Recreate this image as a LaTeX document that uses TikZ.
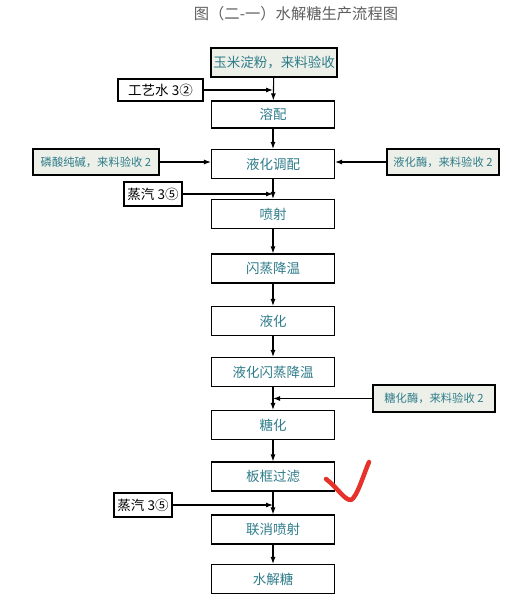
\documentclass[tikz,border=0pt]{standalone}
\usepackage{fontspec}
\setmainfont{Noto Sans CJK SC}
\usetikzlibrary{arrows.meta}
\begin{document}
\begin{tikzpicture}[x=1pt,y=-1pt,font=\fontsize{13.5}{15}\selectfont,
  stepbox/.style={draw,line width=1.1pt,minimum width=123pt,minimum height=29pt,inner sep=0pt,text=tx},
  inbox/.style={draw,line width=1.4pt,minimum height=26pt,inner sep=2pt,text=tx,fill=bg,font=\fontsize{11.3}{13}\selectfont},
  utilbox/.style={draw,line width=1.4pt,minimum height=24pt,inner sep=3pt},
  flow/.style={line width=1.1pt,-{Latex[length=7pt,width=5pt]}}]
  \definecolor{tx}{HTML}{2F7C8A}
  \definecolor{bg}{HTML}{EDF0E8}
  \definecolor{ti}{HTML}{5E5E5E}
  \definecolor{ck}{HTML}{E5322B}
  \useasboundingbox (0,0) rectangle (518,600);
  % title
  \node[text=ti,font=\fontsize{15.3}{17}\selectfont] (title) at (296,14) {图（二-一）水解糖生产流程图};
  % main line
  \node[stepbox,fill=bg,minimum width=126pt] (corn) at (274,62.5) {玉米淀粉，来料验收};
  \node[stepbox,minimum height=27pt] (mix) at (273,114.5) {溶配};
  \node[stepbox] (liqmix) at (273,164) {液化调配};
  \node[stepbox] (jet) at (273,214) {喷射};
  \node[stepbox] (flash) at (273,268.5) {闪蒸降温};
  \node[stepbox] (liq) at (273,321) {液化};
  \node[stepbox] (liqflash) at (273,372) {液化闪蒸降温};
  \node[stepbox] (sugar) at (273,425) {糖化};
  \node[stepbox] (press) at (273,476.5) {板框过滤};
  \node[stepbox] (jet2) at (273,529.5) {联消喷射};
  \node[stepbox] (prod) at (273,579) {水解糖};
  \foreach \a/\b in {corn/mix,mix/liqmix,liqmix/jet,jet/flash,flash/liq,liq/liqflash,liqflash/sugar,sugar/press,press/jet2,jet2/prod}
    \draw[flow] (\a) -- (\b);
  % inputs
  \node[utilbox,minimum width=85pt,minimum height=22pt] (water) at (160.5,90) {工艺水 3②};
  \node[inbox,minimum width=126pt] (soda) at (96,162) {磷酸纯碱，来料验收 2};
  \node[inbox,minimum width=112pt] (lenz) at (443,162) {液化酶，来料验收 2};
  \node[utilbox,minimum width=58pt] (steam) at (153,194) {蒸汽 3⑤};
  \node[inbox,minimum width=122pt,minimum height=27pt] (senz) at (434,398.5) {糖化酶，来料验收 2};
  \node[utilbox,minimum width=58pt] (steam2) at (143,505) {蒸汽 3⑤};
  \draw[flow] (water) -- (water -| mix);
  \draw[flow] (soda) -- (soda -| liqmix.west);
  \draw[flow] (lenz) -- (lenz -| liqmix.east);
  \draw[flow] (steam) -- (steam -| jet);
  \draw[flow] (senz) -- (senz -| sugar);
  \draw[flow] (steam2) -- (steam2 -| jet2);
  % check mark
  \draw[ck,line width=4.5pt,line cap=round,line join=round] (326,479) .. controls (338,488) and (344,500) .. (351,500) .. controls (357,497) and (363,476) .. (369,462);
\end{tikzpicture}
\end{document}
